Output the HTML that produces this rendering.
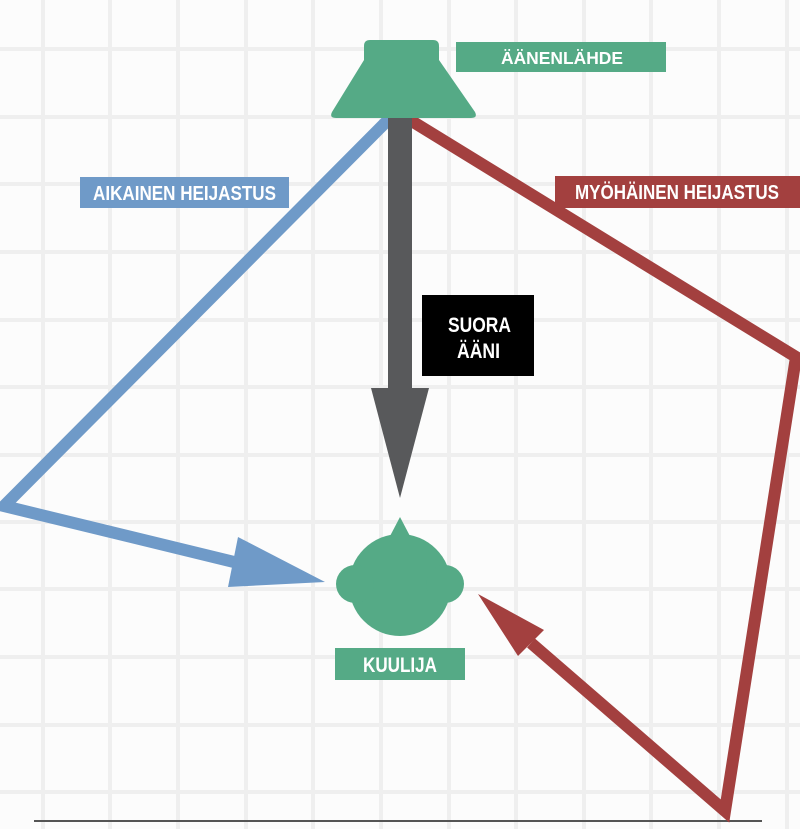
<!DOCTYPE html>
<html>
<head>
<meta charset="utf-8">
<style>
  html,body{margin:0;padding:0;background:#fcfcfc;}
  svg{display:block;}
  text{font-family:"Liberation Sans",sans-serif;font-weight:bold;fill:#ffffff;}
</style>
</head>
<body>
<svg width="800" height="829" viewBox="0 0 800 829" xmlns="http://www.w3.org/2000/svg">
  <rect x="0" y="0" width="800" height="829" fill="#fcfcfc"/>
  <!-- grid -->
  <g fill="#efefef">
    <rect x="41" y="0" width="4" height="829"/>
    <rect x="108" y="0" width="4" height="829"/>
    <rect x="176" y="0" width="4" height="829"/>
    <rect x="244" y="0" width="4" height="829"/>
    <rect x="311" y="0" width="4" height="829"/>
    <rect x="379" y="0" width="4" height="829"/>
    <rect x="447" y="0" width="4" height="829"/>
    <rect x="514" y="0" width="4" height="829"/>
    <rect x="582" y="0" width="4" height="829"/>
    <rect x="649" y="0" width="4" height="829"/>
    <rect x="717" y="0" width="4" height="829"/>
    <rect x="785" y="0" width="4" height="829"/>
    <rect x="0" y="47" width="800" height="4"/>
    <rect x="0" y="115" width="800" height="4"/>
    <rect x="0" y="182" width="800" height="4"/>
    <rect x="0" y="250" width="800" height="4"/>
    <rect x="0" y="318" width="800" height="4"/>
    <rect x="0" y="385" width="800" height="4"/>
    <rect x="0" y="453" width="800" height="4"/>
    <rect x="0" y="520" width="800" height="4"/>
    <rect x="0" y="587" width="800" height="4"/>
    <rect x="0" y="655" width="800" height="4"/>
    <rect x="0" y="723" width="800" height="4"/>
    <rect x="0" y="790" width="800" height="4"/>
  </g>

  <!-- bottom baseline -->
  <rect x="34" y="820" width="728" height="2" fill="#555555"/>

  <!-- blue early reflection -->
  <polyline points="390,118 4,506 234,562" fill="none" stroke="#6f9ac8" stroke-width="12" stroke-linejoin="miter" stroke-miterlimit="10"/>
  <polygon points="238,537 325,582 228,587" fill="#6f9ac8"/>

  <!-- red late reflection -->
  <polyline points="410,120 796,357 725,811 531,643" fill="none" stroke="#a3403f" stroke-width="12" stroke-linejoin="miter" stroke-miterlimit="10"/>
  <polygon points="478,594 544,630 518,656" fill="#a3403f"/>

  <!-- direct sound arrow -->
  <rect x="388" y="112" width="24" height="280" fill="#58595b"/>
  <polygon points="371,388 429,388 400,498" fill="#58595b"/>

  <!-- speaker (source) -->
  <path d="M370,40 L433,40 Q439,40 439,46 L439,60 L475,112 Q478,118 471,118 L336,118 Q329,118 332,112 L364,60 L364,46 Q364,40 370,40 Z" fill="#55aa86"/>

  <!-- listener head -->
  <g fill="#55aa86">
    <circle cx="400" cy="585" r="51"/>
    <circle cx="355" cy="584" r="19"/>
    <circle cx="445" cy="584" r="19"/>
    <polygon points="389,538 400,517 411,538"/>
  </g>

  <!-- labels -->
  <rect x="456" y="42" width="210" height="30" fill="#55aa86"/>
  <text x="501" y="64" font-size="17.5" textLength="122" lengthAdjust="spacingAndGlyphs">ÄÄNENLÄHDE</text>

  <rect x="80" y="177" width="209" height="31" fill="#6f9ac8"/>
  <text x="93" y="200" font-size="20" textLength="183" lengthAdjust="spacingAndGlyphs">AIKAINEN HEIJASTUS</text>

  <rect x="555" y="176" width="245" height="32" fill="#a3403f"/>
  <text x="575" y="199" font-size="20" textLength="204" lengthAdjust="spacingAndGlyphs">MYÖHÄINEN HEIJASTUS</text>

  <rect x="422" y="295" width="112" height="81" fill="#000000"/>
  <text x="448" y="332" font-size="21" textLength="63" lengthAdjust="spacingAndGlyphs">SUORA</text>
  <text x="457" y="358" font-size="21" textLength="43" lengthAdjust="spacingAndGlyphs">ÄÄNI</text>

  <rect x="335" y="648" width="130" height="32" fill="#55aa86"/>
  <text x="363" y="672" font-size="21" textLength="74" lengthAdjust="spacingAndGlyphs">KUULIJA</text>
</svg>
</body>
</html>
